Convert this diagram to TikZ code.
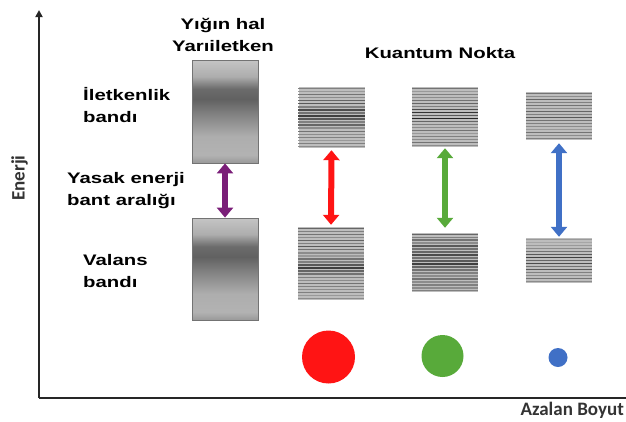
\documentclass[tikz,border=0pt]{standalone}
\usepackage{fontspec}
\usepackage{graphicx}
\setmainfont{Liberation Sans}
\newfontfamily\axisfont{Carlito}
\usetikzlibrary{arrows.meta,calc}

% bulk band: light top, dark band at one third, lighter lower part
\pgfdeclareverticalshading{bulkband}{100bp}{
  rgb(0bp)=(0.60,0.60,0.60);
  rgb(25bp)=(0.60,0.60,0.60);
  rgb(29bp)=(0.70,0.70,0.70);
  rgb(38bp)=(0.68,0.68,0.68);
  rgb(48bp)=(0.52,0.52,0.52);
  rgb(56bp)=(0.38,0.38,0.38);
  rgb(61bp)=(0.42,0.42,0.42);
  rgb(67bp)=(0.68,0.68,0.68);
  rgb(75bp)=(0.77,0.77,0.77);
  rgb(100bp)=(0.77,0.77,0.77)}

\definecolor{gapPurple}{HTML}{7A1E78}
\definecolor{qdRed}{HTML}{FF1414}
\definecolor{qdGreen}{HTML}{58AA3A}
\definecolor{qdBlue}{HTML}{4070C6}

\newcommand\wtext[1]{\scalebox{1.33}[1]{#1}}

% discrete energy levels inside a level box
\newcommand\bandlines[3]{%
  \foreach \lv [count=\k] in {#3} {
    \pgfmathsetmacro\fr{(\k-0.5)/#2}
    \draw[line width=1.5pt, black!\lv]
      ($(#1.north west)!\fr!(#1.south west)$) -- ($(#1.north east)!\fr!(#1.south east)$);
  }%
}

\tikzset{
  axisline/.style={line width=2pt, draw=black!85},
  bulkbox/.style={draw=black!55, line width=0.8pt, shading=bulkband,
    minimum width=66pt, minimum height=103pt, inner sep=0},
  levelbox/.style={fill=black!26, minimum width=66pt, inner sep=0},
  gaparrow/.style={line width=6pt,
    {Triangle[width=16pt,length=10pt]}-{Triangle[width=16pt,length=10pt]}},
  txtlabel/.style={font=\fontsize{15.3}{22}\selectfont\bfseries, inner sep=0},
  axislabel/.style={font=\axisfont\bfseries\fontsize{19}{19}\selectfont,
    text=black!80, inner sep=0},
  qdot/.style={circle, inner sep=0},
}

\begin{document}
\begin{tikzpicture}[x=1pt, y=-1pt]
  \useasboundingbox (0,0) rectangle (626,421);

  % axes
  \coordinate (O) at (39,398);
  \coordinate (ytop) at (39,10);
  \coordinate (xend) at (626,398);
  \draw[axisline, -{Triangle[width=7pt,length=7pt]}] (O) -- (ytop);
  \draw[axisline] (O) -- (xend);
  \node[axislabel, rotate=90] (en) at (19.5,178) {Enerji};
  \node[axislabel, anchor=base east] (ab) at (624,415) {Azalan Boyut};

  % bulk semiconductor
  \node[bulkbox] (cb) at (225,111.5) {};
  \node[bulkbox, minimum height=102pt] (vb) at (225,269) {};
  \draw[gaparrow, gapPurple] (cb.south) -- (vb.north);

  % quantum dot levels
  \node[levelbox, minimum height=61pt] (rt) at (331.5,117.5) {};
  \node[levelbox, minimum height=73pt] (rb) at (331,263.5) {};
  \node[levelbox, minimum height=60pt] (gt) at (445,117) {};
  \node[levelbox, minimum height=59pt] (gb) at (445,262.5) {};
  \node[levelbox, minimum height=48pt] (bt) at (559,116) {};
  \node[levelbox, minimum height=45pt] (bb) at (559,260.5) {};

  \bandlines{rt}{20}{50,40,55,45,60,65,50,70,55,75,65,50,60,45,55,45,50,40,50,45}
  \bandlines{rb}{24}{60,50,55,45,60,50,65,55,45,40,55,50,65,75,60,55,50,45,55,50,45,50,40,45}
  \bandlines{gt}{20}{55,40,50,45,55,60,50,70,80,65,85,60,50,45,55,40,50,45,55,45}
  \bandlines{gb}{20}{60,50,55,45,65,55,60,70,55,65,75,60,55,50,45,55,45,50,45,50}
  \bandlines{bt}{16}{55,45,60,50,55,45,60,50,65,55,50,45,40,55,45,50}
  \bandlines{bb}{15}{40,35,40,45,55,65,75,60,70,55,65,50,45,55,45}

  \draw[gaparrow, qdRed, shorten <=2pt, shorten >=2pt] (rt.south) -- (rb.north);
  \draw[gaparrow, qdGreen, shorten <=1pt, shorten >=5pt] (gt.south) -- (gb.north);
  \draw[gaparrow, qdBlue, shorten <=3pt, shorten >=1pt] (bt.south) -- (bb.north);

  % dot sizes
  \node[qdot, fill=qdRed, minimum size=53pt] (rc) at (328.5,357) {};
  \node[qdot, fill=qdGreen, minimum size=42pt] (gc) at (442.5,356) {};
  \node[qdot, fill=qdBlue, minimum size=19pt] (bc) at (558,357.5) {};

  % labels
  \node[txtlabel, align=center] (bulk) at (223,34.5)
    {\wtext{Yığın hal}\\\wtext{Yarıiletken}};
  \node[txtlabel] (qd) at (440,53.5) {\wtext{Kuantum Nokta}};
  \node[txtlabel, align=left, anchor=west] (cbl) at (83,105.5)
    {\wtext{İletkenlik}\\\wtext{bandı}};
  \node[txtlabel, align=left, anchor=west] (gapl) at (67,190.5)
    {\wtext{Yasak enerji}\\\wtext{bant aralığı}};
  \node[txtlabel, align=left, anchor=west] (vbl) at (83,271)
    {\wtext{Valans}\\\wtext{bandı}};
\end{tikzpicture}
\end{document}
